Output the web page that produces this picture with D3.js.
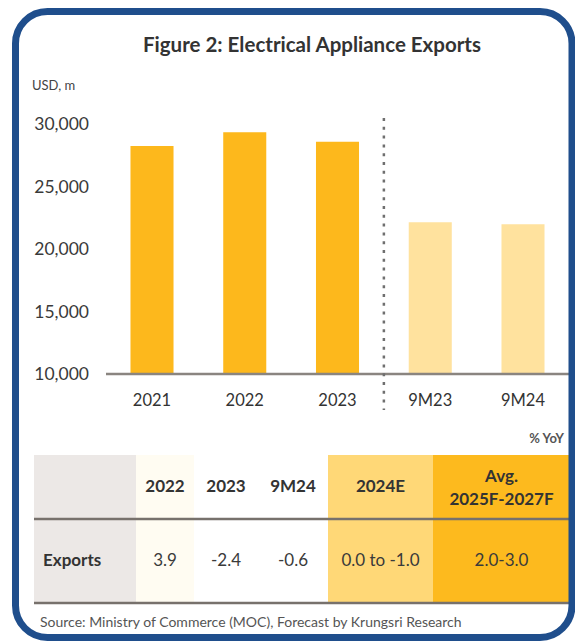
<!DOCTYPE html>
<html>
<head>
<meta charset="utf-8">
<script src="https://cdn.jsdelivr.net/npm/d3@7"></script>
<style>
  body { margin: 0; background: #fff; }
  svg { display: block; font-family: Lato, "Open Sans", sans-serif; }
</style>
</head>
<body>
<div id="chart"></div>
<script>
// chart data
const categories = ["2021", "2022", "2023", "9M23", "9M24"]
const exportValues = [28240, 29340, 28580, 22140, 21980]
const actualCats = ["2021", "2022", "2023"]
const yTicks = [10000, 15000, 20000, 25000, 30000]

// table data
const tableHeaders = ["2022", "2023", "9M24", "2024E", "Avg.|2025F-2027F"]
const tableValues = ["3.9", "-2.4", "-0.6", "0.0 to -1.0", "2.0-3.0"]
const rowLabel = "Exports"

const width = 575, height = 641

const svg = d3.select("#chart")
  .append("svg")
  .attr("width", width)
  .attr("height", height)

// title
svg.append("text")
  .attr("x", 312).attr("y", 52)
  .attr("text-anchor", "middle")
  .style("font-size", "20.5px").style("font-weight", "bold")
  .style("fill", "#333")
  .text("Figure 2: Electrical Appliance Exports")

svg.append("text")
  .attr("x", 32).attr("y", 90)
  .style("font-size", "13px").style("fill", "#444")
  .text("USD, m")

// scales
const x = d3.scaleBand()
  .domain(categories)
  .range([106, 569])
  .paddingInner(0.536)
  .paddingOuter(0.264)

const y = d3.scaleLinear()
  .domain([10000, 30000])
  .range([374, 124])

// y labels
const yAxis = svg.append("g")
  .attr("transform", "translate(89,0)")
  .call(d3.axisLeft(y).tickValues(yTicks).tickSize(0).tickPadding(0).tickFormat(d3.format(",")))
yAxis.select(".domain").remove()
yAxis.selectAll("text")
  .style("font-family", "Lato, sans-serif")
  .style("font-size", "17.5px")
  .style("fill", "#3a3a3a")

// bars
svg.selectAll(".bar")
  .data(categories)
  .enter()
  .append("rect")
  .attr("class", "bar")
  .attr("x", d => x(d))
  .attr("width", x.bandwidth())
  .attr("y", (d, i) => y(exportValues[i]))
  .attr("height", (d, i) => y(10000) - y(exportValues[i]))
  .style("fill", d => actualCats.includes(d) ? "#FDB81C" : "#FFE29E")

// x axis
const xAxis = svg.append("g")
  .attr("transform", "translate(0,374)")
  .call(d3.axisBottom(x).tickSize(0).tickPadding(20))
xAxis.select(".domain")
  .attr("d", "M106,0H569")
  .style("stroke", "#8a8580").style("stroke-width", 2.5)
xAxis.selectAll("text")
  .style("font-family", "Lato, sans-serif")
  .style("font-size", "16.5px")
  .style("fill", "#333")

// dotted divider between actual and 9M data
const divX = (x("2023") + x.bandwidth() + x("9M23")) / 2
svg.append("line")
  .attr("x1", divX).attr("x2", divX)
  .attr("y1", 118).attr("y2", 410)
  .style("stroke", "#6f6f6f")
  .style("stroke-width", 2.5)
  .style("stroke-dasharray", "3,5.8")

svg.append("text")
  .attr("x", 564).attr("y", 443)
  .attr("text-anchor", "end")
  .style("font-size", "13px").style("font-weight", "bold")
  .style("fill", "#555")
  .text("% YoY")

// table
const colEdges = [34, 136, 194, 258, 328, 433, 570]
const colFills = ["#ECE8E6", "#FFFCF2", "#fff", "#fff", "#FFD877", "#FDBA1E"]
const tTop = 455, tMid = 519, tBot = 603

colFills.forEach((c, i) => {
  svg.append("rect")
    .attr("x", colEdges[i]).attr("y", tTop)
    .attr("width", colEdges[i + 1] - colEdges[i])
    .attr("height", tBot - tTop)
    .style("fill", c)
})

;[tMid, tBot].forEach(ly => {
  svg.append("line")
    .attr("x1", colEdges[0]).attr("x2", colEdges[6])
    .attr("y1", ly).attr("y2", ly)
    .style("stroke", "#77716c").style("stroke-width", 2.5)
})

const colCenter = i => (colEdges[i + 1] + colEdges[i]) / 2

tableHeaders.forEach((h, i) => {
  const lines = h.split("|")
  const t = svg.append("text")
    .attr("x", colCenter(i + 1))
    .attr("text-anchor", "middle")
    .style("font-size", "17px").style("font-weight", "bold")
    .style("fill", "#333")
  if (lines.length === 1) {
    t.attr("y", 492).text(h)
  } else {
    lines.forEach((l, j) => {
      t.append("tspan").attr("x", colCenter(i + 1)).attr("y", 482 + j * 23).text(l)
    })
  }
})

svg.append("text")
  .attr("x", 43).attr("y", 566)
  .style("font-size", "17px").style("font-weight", "bold")
  .style("fill", "#333")
  .text(rowLabel)

tableValues.forEach((v, i) => {
  svg.append("text")
    .attr("x", colCenter(i + 1)).attr("y", 566)
    .attr("text-anchor", "middle")
    .style("font-size", "17px")
    .style("fill", "#3a3a3a")
    .text(v)
})

svg.append("text")
  .attr("x", 40).attr("y", 627)
  .style("font-size", "14px").style("fill", "#555")
  .text("Source: Ministry of Commerce (MOC), Forecast by Krungsri Research")

// outer frame
svg.append("rect")
  .attr("x", 15.5).attr("y", 11.5)
  .attr("width", 556.5).attr("height", 626)
  .attr("rx", 32).attr("ry", 32)
  .style("fill", "none")
  .style("stroke", "#1F4E8C")
  .style("stroke-width", 7)
</script>
</body>
</html>
